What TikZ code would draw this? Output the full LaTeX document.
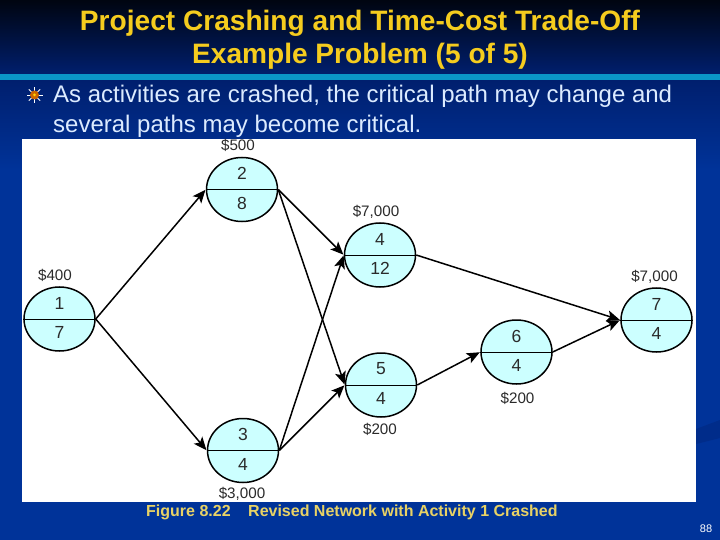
\documentclass[tikz,border=0pt]{standalone}
\usepackage{fontspec}
\setmainfont{Liberation Sans}
\usetikzlibrary{shapes.geometric,arrows.meta}
\definecolor{slideblue}{HTML}{003399}
\definecolor{slidedark}{HTML}{001F6E}
\definecolor{slideband}{HTML}{0A96C8}
\definecolor{titleyellow}{HTML}{F5CC1E}
\definecolor{captionyellow}{HTML}{E8D265}
\definecolor{bodyblue}{HTML}{DCEBFF}
\definecolor{nodefill}{HTML}{CCFFFF}
\definecolor{inktext}{HTML}{2A2A2A}

\begin{document}
\begin{tikzpicture}[ x=1pt, y=-1pt, >=stealth,
        activity/.style={ ellipse, draw=black, fill=nodefill, line width=1.5pt,
          minimum width=71pt, minimum height=64pt, inner sep=0pt },
        number/.style={ font=\fontsize{17.5}{17.5}\selectfont, text=inktext, inner sep=0pt },
        cost/.style={ font=\fontsize{15.2}{15.2}\selectfont, text=inktext, inner sep=0pt },
        link/.style={ -{Stealth[length=13pt,width=11pt,inset=3pt]}, line width=1.5pt, shorten >=.5pt },
        title/.style={ font=\bfseries\fontsize{28.1}{33}\selectfont, text=titleyellow,
          align=center, inner sep=0pt },
        bodytext/.style={ font=\fontsize{24}{30}\selectfont, text=bodyblue,
          align=left, inner sep=0pt, anchor=north west },
        caption/.style={ font=\bfseries\fontsize{16}{16}\selectfont, text=captionyellow,
          inner sep=0pt, anchor=west } ]
        \useasboundingbox (0,0) rectangle (720,540);

        % slide background
        \fill[slideblue] (0,0) rectangle (720,540);
        \shade[top color=black!85!slidedark, bottom color=slidedark] (0,0) rectangle (720,75);
        \shade[top color=slidedark, bottom color=slideblue] (0,80) rectangle (720,170);
        \fill[slideband] (0,74) rectangle (720,80);
        \fill[slidedark!35!slideblue] (696,429) -- (720,420) -- (720,438) -- (696,444) -- cycle;
        \fill[white] (22,139) rectangle (696,502);

        \node[title] (heading) at (360,39.5) {Project Crashing and Time-Cost Trade-Off\\Example Problem (5 of 5)};

        % bullet
        \foreach \a in {0,45,...,315}
        \draw[white, line width=.9pt] (34.5,95) -- ++(\a:8);
        \fill[orange!80!black] (34.5,95) circle (4.5);
        \fill[yellow!70!orange] (34.5,95) circle (1.5);
        \node[bodytext] (intro) at (53,85) {As activities are crashed, the critical path may change and\\several paths may become critical.};

        % activities
        \foreach \x/\y/\n/\d in {59.5/319/1/7,242/189.5/2/8,243/450.5/3/4,380/255/4/12,381/385/5/4,516.5/352/6/4,656.5/320/7/4} {
        \node[activity] (a\n) at (\x,\y) {};
        \draw[line width=.8pt] (a\n.west) -- (a\n.east);
        \node[number] (top\n) at (\x,\y-16) {\n};
        \node[number] (low\n) at (\x,\y+13.5) {\d};
        }

        \foreach \x/\y/\n/\c in {55/275.5/1/\$400,238/145.5/2/\$500,242/494/3/{\$3,000},376/212/4/{\$7,000},380/429/5/\$200,517.5/398/6/\$200,654.5/277/7/{\$7,000}}
        \node[cost] (c\n) at (\x,\y) {\c};

        % connectors
        \draw[link] (a1.east) -- (a2.west);
        \draw[link] (a1.east) -- (a3.west);
        \draw[link] (a2.east) -- (a4.west);
        \draw[link] (a2.east) -- (a5.west);
        \draw[link] (a3.east) -- (a4.west);
        \draw[link] (a3.east) -- (a5.west);
        \draw[link] (a4.east) -- (a7.west);
        \draw[link] (a5.east) -- (a6.west);
        \draw[link] (a6.east) -- (a7.west);

        \node[caption] (figcap) at (146,512) {Figure 8.22};
        \node[caption] (figtext) at (248,512) {Revised Network with Activity 1 Crashed};
        \node[font=\fontsize{11}{11}\selectfont, text=white, inner sep=0pt] (pageno) at (706,529) {88};
      \end{tikzpicture}
\end{document}
